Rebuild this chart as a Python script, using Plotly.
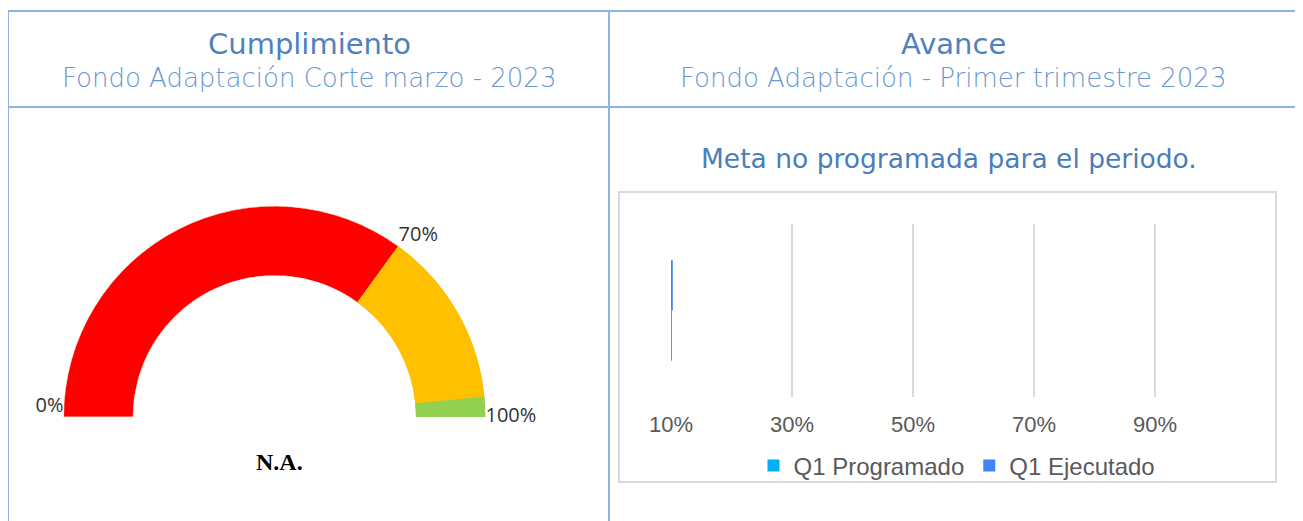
import plotly.graph_objects as go

W, H = 1303, 521
OFF = 8  # default body margin of the html page

# ---- data ----
gauge_bands = ["Bajo", "Medio", "Alto"]
gauge_start = [0, 70, 97]
gauge_end = [70, 97, 100]
gauge_colors = ["#FF0000", "#FFC000", "#92D050"]
gauge_labels = ["0%", "70%", "100%"]
gauge_label_pos = [0, 70, 100]
gauge_value_text = "N.A."

categories = ["Q1"]
programado = [0.1015]
ejecutado = [0.103]
series_names = ["Q1 Programado", "Q1 Ejecutado"]
series_colors = ["#00B0F0", "#4285F4"]
x_ticks = [0.1, 0.3, 0.5, 0.7, 0.9]
x_ticklabels = ["10%", "30%", "50%", "70%", "90%"]


def px(x):
    return (x - OFF) / W


def py(y):
    return 1 - (y - OFF) / H


fig = go.Figure()

# ---- gauge (polar half circle) ----
deg = 180 / 100
fig.add_trace(go.Barpolar(
    r=[1] * len(gauge_bands),
    theta=[(s + e) / 2 * deg for s, e in zip(gauge_start, gauge_end)],
    width=[(e - s) * deg for s, e in zip(gauge_start, gauge_end)],
    marker=dict(color=gauge_colors,
                line=dict(color=["#F8CBAD", "#FFC000", "#92D050"], width=1)),
    showlegend=False, hoverinfo="skip", subplot="polar",
))
fig.add_trace(go.Scatterpolar(
    r=[1, 1, 1],
    theta=[p * deg for p in gauge_label_pos],
    text=gauge_labels,
    mode="text",
    textposition=["top left", "top right", "middle right"],
    textfont=dict(family="Open Sans", size=20, color="#333333"),
    cliponaxis=False, showlegend=False, hoverinfo="skip", subplot="polar",
))

# ---- bar chart ----
fig.add_trace(go.Bar(y=categories, x=programado, orientation="h", name=series_names[0],
                     marker=dict(color=series_colors[0], line=dict(width=0))))
fig.add_trace(go.Bar(y=categories, x=ejecutado, orientation="h", name=series_names[1],
                     marker=dict(color=series_colors[1], line=dict(width=0))))

line_col = "#8DB4E2"
shapes = [
    dict(type="line", xref="paper", yref="paper", x0=px(8), x1=px(1297), y0=py(11), y1=py(11),
         line=dict(color=line_col, width=2)),
    dict(type="line", xref="paper", yref="paper", x0=px(8), x1=px(1297), y0=py(107), y1=py(107),
         line=dict(color=line_col, width=2)),
    dict(type="line", xref="paper", yref="paper", x0=px(8), x1=px(8), y0=py(11), y1=0,
         line=dict(color=line_col, width=2)),
    dict(type="line", xref="paper", yref="paper", x0=px(609), x1=px(609), y0=py(11), y1=0,
         line=dict(color=line_col, width=2)),
    dict(type="line", xref="paper", yref="paper", x0=px(1297), x1=px(1297), y0=py(11), y1=0,
         line=dict(color=line_col, width=2)),
    dict(type="rect", xref="paper", yref="paper", x0=px(619), x1=px(1276), y0=py(192), y1=py(482),
         line=dict(color="#D9D9D9", width=2), layer="below"),
]

head_font = "DejaVu Sans"


def ann(text, x, y, font):
    return dict(text=text, x=px(x), y=py(y), xref="paper", yref="paper", showarrow=False,
                xanchor="center", yanchor="middle", font=font)


annotations = [
    ann("Cumplimiento", 309, 44, dict(family=head_font, size=29, color="#4F81BD", weight=400)),
    ann("Fondo Adaptación Corte marzo - 2023", 309, 78,
        dict(family=head_font, size=26, color="#6A98D4", weight=200)),
    ann("Avance", 953, 44, dict(family=head_font, size=29, color="#4F81BD", weight=400)),
    ann("Fondo Adaptación - Primer trimestre 2023", 953, 78,
        dict(family=head_font, size=26, color="#6A98D4", weight=200)),
    ann("Meta no programada para el periodo.", 949, 158,
        dict(family="DejaVu Sans", size=26.5, color="#4A7EBB")),
    ann("<b>%s</b>" % gauge_value_text, 279, 462,
        dict(family="Liberation Serif", size=24, color="#000000")),
]

fig.update_layout(
    width=W, height=H, autosize=False,
    margin=dict(l=0, r=0, t=0, b=0, pad=0, autoexpand=False),
    paper_bgcolor="white", plot_bgcolor="white",
    polar=dict(
        domain=dict(x=[px(63.5), px(485.5)], y=[py(417), py(206)]),
        sector=[0, 180], hole=0.67, bgcolor="rgba(0,0,0,0)",
        angularaxis=dict(visible=False, rotation=180, direction="clockwise"),
        radialaxis=dict(visible=False, range=[0, 1]),
    ),
    xaxis=dict(domain=[px(671), px(1215.5)], range=[0.1, 1.0], tickvals=x_ticks, ticktext=x_ticklabels,
               showgrid=True, gridcolor="#D9D9D9", gridwidth=2, zeroline=False, showline=False,
               ticks="", ticklabelstandoff=12, automargin=False,
               tickfont=dict(family="Liberation Sans", size=22, color="#595959"), fixedrange=True),
    yaxis=dict(domain=[py(397), py(224)], showticklabels=False, showgrid=False, zeroline=False,
               showline=False, ticks="", automargin=False),
    barmode="group", bargap=0.42, bargroupgap=0,
    legend=dict(orientation="h", x=px(957), xanchor="center", y=py(466), yanchor="middle",
                font=dict(family="Liberation Sans", size=24, color="#595959"),
                itemwidth=30, traceorder="normal", bgcolor="rgba(0,0,0,0)"),
    shapes=shapes, annotations=annotations,
    showlegend=True,
)

fig.write_html("out.html")
